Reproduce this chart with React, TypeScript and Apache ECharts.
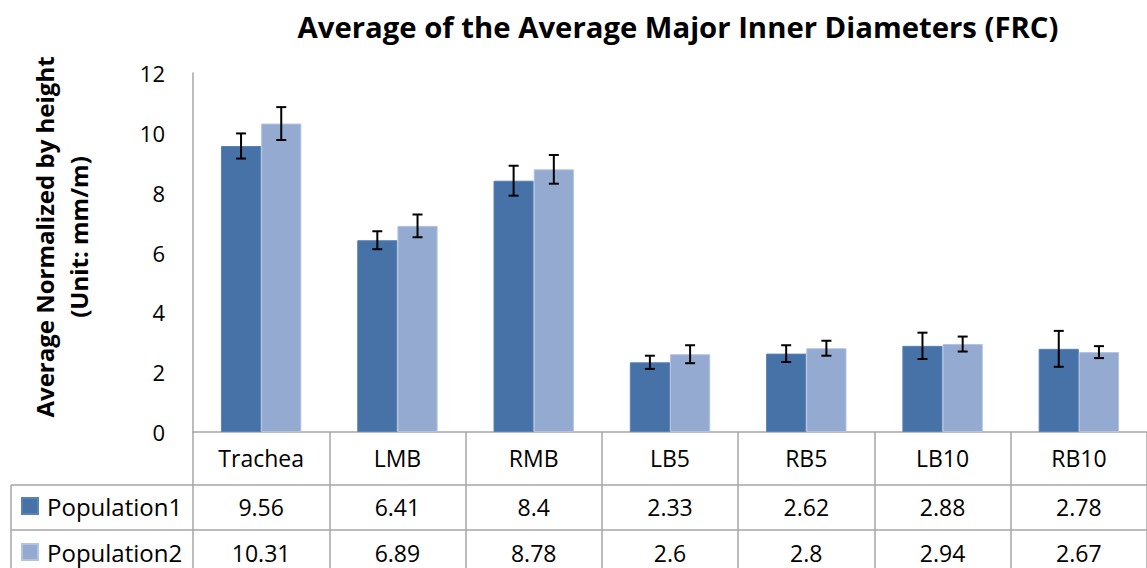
import React, { useEffect, useRef } from "react";
import * as echarts from "echarts";

const categories = ["Trachea", "LMB", "RMB", "LB5", "RB5", "LB10", "RB10"];
const population1 = [9.56, 6.41, 8.4, 2.33, 2.62, 2.88, 2.78];
const population2 = [10.31, 6.89, 8.78, 2.6, 2.8, 2.94, 2.67];
const population1Err = [0.42, 0.3, 0.5, 0.22, 0.28, 0.44, 0.6];
const population2Err = [0.55, 0.38, 0.48, 0.3, 0.25, 0.25, 0.2];
const seriesNames = ["Population1", "Population2"];
const yTicks = { min: 0, max: 12, interval: 2 };

const FONT = "Open Sans";
const C1 = "#4672A8";
const C2 = "#95AAD1";
const GRID_LINE = "#A6A6A6";

export default function App() {
  const ref = useRef<HTMLDivElement>(null);

  useEffect(() => {
    if (!ref.current) return;
    const chart = echarts.init(ref.current, null, { renderer: "svg" });

    const makeErr = (values: number[], errs: number[], side: number) =>
      ({
        type: "custom",
        name: seriesNames[side] + " error",
        xAxisIndex: 0,
        yAxisIndex: 0,
        z: 10,
        data: values.map((v, i) => [i, v, errs[i]]),
        renderItem: (params: any, api: any) => {
          const idx = api.value(0);
          const v = api.value(1);
          const e = api.value(2);
          const band = api.size([1, 0])[0];
          const barW = (band * (1 - 0.41)) / 2;
          const center = api.coord([idx, v]);
          const x = center[0] + (side === 0 ? -barW / 2 : barW / 2);
          const hi = api.coord([idx, v + e])[1];
          const lo = api.coord([idx, v - e])[1];
          const style = { stroke: "#000", lineWidth: 2 };
          return {
            type: "group",
            children: [
              { type: "line", shape: { x1: x, y1: hi, x2: x, y2: lo }, style },
              { type: "line", shape: { x1: x - 5, y1: hi, x2: x + 5, y2: hi }, style },
              { type: "line", shape: { x1: x - 5, y1: lo, x2: x + 5, y2: lo }, style },
            ],
          };
        },
      }) as any;

    const option: any = {
      animation: false,
      backgroundColor: "#fff",
      textStyle: { fontFamily: FONT },
      title: {
        text: "Average of the Average Major Inner Diameters (FRC)",
        left: 673,
        textAlign: "center",
        top: 7,
        textStyle: { fontFamily: FONT, fontSize: 29.3, fontWeight: "bold", color: "#000" },
      },
      legend: [0, 1].map((k) => ({
        data: [{ name: seriesNames[k] }],
        left: 21,
        top: k === 0 ? 494 : 540,
        padding: 0,
        icon: "rect",
        itemWidth: 16,
        itemHeight: 16,
        selectedMode: false,
        textStyle: { fontFamily: FONT, fontSize: 24, color: "#000", padding: [0, 0, 0, 4] },
      })),
      grid: { left: 193, top: 73, width: 968.8, height: 359, containLabel: false },
      xAxis: [
        {
          type: "category",
          data: categories,
          position: "bottom",
          axisLine: { show: true, lineStyle: { color: GRID_LINE, width: 1.5 } },
          axisTick: { show: true, length: 140, interval: 0, lineStyle: { color: GRID_LINE, width: 1.5 } },
          axisLabel: { interval: 0, fontSize: 23, color: "#000", margin: 14, fontFamily: FONT },
        },
        {
          type: "category",
          data: categories,
          position: "bottom",
          offset: 53,
          axisLine: { show: true, lineStyle: { color: GRID_LINE, width: 1.5 } },
          axisTick: { show: false },
          axisLabel: {
            interval: 0,
            fontSize: 23,
            color: "#000",
            margin: 10,
            fontFamily: FONT,
            formatter: (_v: string, i: number) => String(population1[i]),
          },
        },
        {
          type: "category",
          data: categories,
          position: "bottom",
          offset: 98,
          axisLine: { show: true, lineStyle: { color: GRID_LINE, width: 1.5 } },
          axisTick: { show: false },
          axisLabel: {
            interval: 0,
            fontSize: 23,
            color: "#000",
            margin: 11,
            fontFamily: FONT,
            formatter: (_v: string, i: number) => String(population2[i]),
          },
        },
      ],
      yAxis: {
        type: "value",
        min: yTicks.min,
        max: yTicks.max,
        interval: yTicks.interval,
        axisLine: { show: true, lineStyle: { color: GRID_LINE, width: 1.5 } },
        axisTick: { show: false },
        splitLine: { show: false },
        axisLabel: { fontSize: 22, color: "#000", margin: 28, fontFamily: FONT },
      },
      graphic: [
        {
          type: "text",
          x: 61,
          y: 237,
          rotation: Math.PI / 2,
          style: {
            text: "Average Normalized by height\n(Unit: mm/m)",
            fontFamily: FONT,
            fontSize: 24,
            fontWeight: "bold",
            fill: "#000",
            align: "center",
            verticalAlign: "middle",
            lineHeight: 34,
          },
        },
        { type: "line", shape: { x1: 11, y1: 485, x2: 193, y2: 485 }, style: { stroke: GRID_LINE, lineWidth: 1.5 } },
        { type: "line", shape: { x1: 11, y1: 530, x2: 193, y2: 530 }, style: { stroke: GRID_LINE, lineWidth: 1.5 } },
        { type: "line", shape: { x1: 11, y1: 485, x2: 11, y2: 580 }, style: { stroke: GRID_LINE, lineWidth: 1.5 } },
      ],
      series: [
        {
          type: "bar",
          name: seriesNames[0],
          data: population1,
          barGap: "0%",
          barCategoryGap: "41%",
          itemStyle: { color: C1, borderColor: "#5A82B4", borderWidth: 1 },
        },
        {
          type: "bar",
          name: seriesNames[1],
          data: population2,
          barGap: "0%",
          barCategoryGap: "41%",
          itemStyle: { color: C2, borderColor: "#B3C3E0", borderWidth: 1 },
        },
        makeErr(population1, population1Err, 0),
        makeErr(population2, population2Err, 1),
      ],
    };

    chart.setOption(option);
    return () => chart.dispose();
  }, []);

  return (
    <div
      ref={ref}
      style={{ position: "fixed", left: 0, top: 0, width: 1147, height: 568 }}
    />
  );
}
